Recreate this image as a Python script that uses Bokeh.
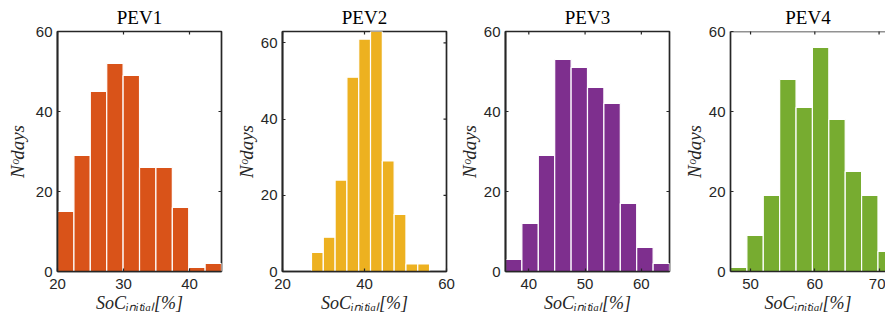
import math
from bokeh.plotting import figure
from bokeh.models import FixedTicker, Range1d, Span
from bokeh.layouts import row
from bokeh.embed import file_html
from bokeh.resources import INLINE

# ---- data ----
titles = ["PEV1", "PEV2", "PEV3", "PEV4"]
colors = ["#D95319", "#EDB120", "#7E2F8E", "#77AC30"]

pev1_edges = [20.0, 22.49, 24.97, 27.46, 29.94, 32.43, 34.91, 37.40, 39.88, 42.37, 44.85]
pev1_counts = [15, 29, 45, 52, 49, 26, 26, 16, 1, 2]

pev2_edges = [27.07, 29.95, 32.83, 35.71, 38.59, 41.47, 44.35, 47.23, 50.11, 52.99, 55.87]
pev2_counts = [5, 9, 24, 51, 61, 63, 29, 15, 2, 2]

pev3_edges = [35.86, 38.77, 41.69, 44.60, 47.52, 50.43, 53.34, 56.26, 59.17, 62.09, 65.00]
pev3_counts = [3, 12, 29, 53, 51, 46, 42, 17, 6, 2]

pev4_edges = [46.88, 49.43, 51.98, 54.53, 57.08, 59.63, 62.18, 64.73, 67.28, 69.83, 72.38]
pev4_counts = [1, 9, 19, 48, 41, 56, 38, 25, 19, 5]

x_limits = [(20.0, 44.85), (20.0, 60.0), (35.86, 65.0), (46.88, 71.0)]
y_limits = [(0, 60), (0, 63), (0, 60), (0, 60)]
x_ticks = [[20, 30, 40], [20, 40, 60], [40, 50, 60], [50, 60, 70]]
y_ticks = [0, 20, 40, 60]

x_label = "SoC\u1d62\u2099\u1d62\u209c\u1d62\u2090\u2097[%]"
y_label = "N\u1d52days"

AX = "#262626"
SERIF = "Liberation Serif"


def style_axis(ax, ticks):
    ax.ticker = FixedTicker(ticks=ticks)
    ax.axis_line_color = AX
    ax.axis_line_width = 1.7
    ax.major_tick_line_color = AX
    ax.major_tick_line_width = 1.2
    ax.major_tick_in = 3
    ax.major_tick_out = 0
    ax.minor_tick_line_color = None
    ax.major_label_text_font = "Liberation Sans"
    ax.major_label_text_font_size = "15px"
    ax.major_label_text_color = AX


def make_panel(i, edges, counts, width, left_border, right_border, box_right=True,
               title_offset=0.0, ylabel_standoff=1):
    xr = x_limits[i]
    yr = y_limits[i]
    p = figure(width=width, height=324,
               min_border_left=left_border, min_border_right=right_border,
               min_border_top=31, min_border_bottom=53,
               x_range=Range1d(*xr), y_range=Range1d(*yr),
               output_backend="svg", toolbar_location=None, title=titles[i])
    p.xgrid.visible = False
    p.ygrid.visible = False
    p.background_fill_color = "white"
    p.border_fill_color = "white"
    if box_right:
        p.outline_line_color = AX
        p.outline_line_width = 1.7
        p.outline_line_alpha = 1.0
    else:
        p.outline_line_color = None
        p.add_layout(Span(location=yr[1], dimension="width",
                          line_color=AX, line_width=1.7))

    p.title.text_font = SERIF
    p.title.text_font_style = "normal"
    p.title.text_font_size = "19px"
    p.title.text_color = "black"
    p.title.align = "center"
    p.title.standoff = 8
    p.title.offset = title_offset

    p.quad(left=edges[:-1], right=edges[1:], bottom=0, top=counts,
           fill_color=colors[i], line_color="white", line_width=1.2)

    # inward ticks on the top and right edges of the box (clipped to the frame)
    p.scatter(x=x_ticks[i], y=[yr[1]] * len(x_ticks[i]), marker="dash",
              angle=math.pi / 2, size=6, line_color=AX, line_width=1.2)
    if box_right:
        p.scatter(x=[xr[1]] * len(y_ticks), y=y_ticks, marker="dash",
                  size=6, line_color=AX, line_width=1.2)

    xa = p.xaxis[0]
    style_axis(xa, x_ticks[i])
    xa.major_label_standoff = 7
    xa.axis_label = x_label
    xa.axis_label_text_font = SERIF
    xa.axis_label_text_font_style = "italic"
    xa.axis_label_text_font_size = "18px"
    xa.axis_label_text_color = AX
    xa.axis_label_standoff = 1

    ya = p.yaxis[0]
    style_axis(ya, y_ticks)
    ya.major_label_standoff = 5
    ya.axis_label = y_label
    ya.axis_label_text_font = SERIF
    ya.axis_label_text_font_style = "italic"
    ya.axis_label_text_font_size = "19px"
    ya.axis_label_text_color = AX
    ya.axis_label_standoff = ylabel_standoff
    return p


p1 = make_panel(0, pev1_edges, pev1_counts, 229, 57, 8, ylabel_standoff=5)
p2 = make_panel(1, pev2_edges, pev2_counts, 226, 53, 9)
p3 = make_panel(2, pev3_edges, pev3_counts, 222, 50, 8)
p4 = make_panel(3, pev4_edges, pev4_counts, 208, 53, 0, box_right=False, title_offset=4.5)

layout = row(p1, p2, p3, p4, spacing=0)

open("out.html", "w").write(file_html(layout, INLINE))
